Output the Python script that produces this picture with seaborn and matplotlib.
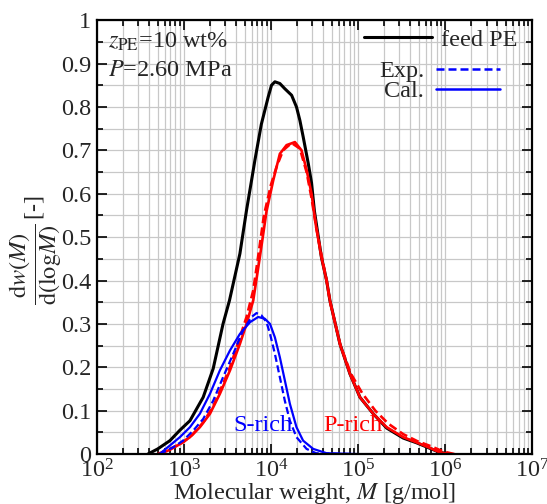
import numpy as np
import pandas as pd
import matplotlib
matplotlib.use('Agg')
import matplotlib.pyplot as plt
from matplotlib.lines import Line2D
from matplotlib.ticker import LogLocator, MultipleLocator, FixedLocator, FixedFormatter
import seaborn as sns

# log10(M) and dw/dlogM
feed_logM = [2.586, 2.70, 2.84, 2.954, 3.07, 3.222, 3.337, 3.45, 3.524, 3.644, 3.72, 3.778,
             3.816, 3.89, 3.969, 4.007, 4.046, 4.103, 4.16, 4.238, 4.294, 4.333, 4.371,
             4.43, 4.467, 4.50, 4.58, 4.64, 4.678, 4.793, 4.908, 5.023, 5.176, 5.33,
             5.52, 5.674, 5.83, 5.94, 6.06]
feed_w = [0, 0.012, 0.031, 0.055, 0.077, 0.131, 0.197, 0.30, 0.354, 0.462, 0.562, 0.631,
          0.677, 0.76, 0.823, 0.85, 0.858, 0.854, 0.842, 0.827, 0.80, 0.769, 0.731,
          0.669, 0.625, 0.56, 0.454, 0.40, 0.354, 0.254, 0.185, 0.131, 0.093, 0.06,
          0.037, 0.026, 0.013, 0.004, 0]

p_cal_logM = [2.72, 2.84, 2.954, 3.07, 3.184, 3.30, 3.414, 3.53, 3.644, 3.72, 3.797, 3.873,
              3.95, 4.027, 4.103, 4.18, 4.276, 4.352, 4.41, 4.467, 4.52, 4.58, 4.64,
              4.678, 4.793, 4.908, 5.023, 5.176, 5.33, 5.52, 5.674, 5.83, 5.94, 6.06]
p_cal_w = [0, 0.01, 0.023, 0.039, 0.062, 0.093, 0.139, 0.193, 0.254, 0.30, 0.354, 0.454,
           0.56, 0.631, 0.692, 0.712, 0.719, 0.70, 0.655, 0.60, 0.523, 0.454, 0.40,
           0.354, 0.254, 0.185, 0.131, 0.093, 0.062, 0.039, 0.027, 0.014, 0.004, 0]

p_exp_logM = [2.70, 2.84, 2.99, 3.10, 3.222, 3.337, 3.45, 3.53, 3.606, 3.72, 3.797, 3.85,
              3.92, 4.0, 4.065, 4.14, 4.238, 4.333, 4.41, 4.467, 4.52, 4.58, 4.64, 4.68,
              4.80, 4.92, 5.05, 5.2, 5.35, 5.52, 5.68, 5.84, 5.98, 6.11]
p_exp_w = [0, 0.012, 0.027, 0.045, 0.073, 0.11, 0.162, 0.20, 0.246, 0.316, 0.377, 0.45,
           0.55, 0.62, 0.662, 0.70, 0.717, 0.704, 0.65, 0.59, 0.523, 0.46, 0.40, 0.35,
           0.25, 0.185, 0.14, 0.10, 0.07, 0.046, 0.03, 0.018, 0.006, 0]

s_cal_logM = [2.72, 2.84, 2.954, 3.07, 3.184, 3.30, 3.414, 3.53, 3.644, 3.76, 3.854, 3.93,
              3.99, 4.046, 4.103, 4.16, 4.218, 4.294, 4.37, 4.486, 4.64, 5.0, 5.5, 6.0]
s_cal_w = [0, 0.02, 0.039, 0.062, 0.093, 0.139, 0.193, 0.239, 0.277, 0.304, 0.316, 0.312,
           0.30, 0.269, 0.223, 0.17, 0.116, 0.062, 0.031, 0.012, 0.002, 0, 0, 0]

s_exp_logM = [2.72, 2.88, 2.99, 3.107, 3.222, 3.337, 3.45, 3.567, 3.68, 3.778, 3.835, 3.89,
              3.95, 3.99, 4.046, 4.103, 4.16, 4.218, 4.294, 4.41, 4.52, 5.0, 5.5, 6.0]
s_exp_w = [0, 0.016, 0.031, 0.054, 0.081, 0.123, 0.177, 0.231, 0.285, 0.316, 0.325, 0.32,
           0.304, 0.277, 0.231, 0.177, 0.123, 0.077, 0.039, 0.012, 0.002, 0, 0, 0]

y_ticks = [0, 0.1, 0.2, 0.3, 0.4, 0.5, 0.6, 0.7, 0.8, 0.9, 1]
y_ticklabels = ['0', '0.1', '0.2', '0.3', '0.4', '0.5', '0.6', '0.7', '0.8', '0.9', '1']

sns.set_theme(style='ticks')
plt.rcParams['font.family'] = ['Liberation Serif', 'DejaVu Serif']
plt.rcParams['mathtext.fontset'] = 'stix'
fs = 17.5

fig = plt.figure(figsize=(5.47, 5.04), dpi=100)
ax = fig.add_axes([0.177, 0.099, 0.7956, 0.861])

dash = (3.2, 1.6)
curves = [
    (feed_logM, feed_w, 'black', '-', 2.2),
    (p_cal_logM, p_cal_w, 'red', '-', 1.9),
    (p_exp_logM, p_exp_w, 'red', '--', 1.9),
    (s_cal_logM, s_cal_w, 'blue', '-', 1.6),
    (s_exp_logM, s_exp_w, 'blue', '--', 1.6),
]
for lm, w, c, ls, lw in curves:
    df = pd.DataFrame({'M': 10 ** np.array(lm), 'w': w})
    line_kw = dict(dashes=dash) if ls == '--' else {}
    sns.lineplot(data=df, x='M', y='w', color=c, lw=lw, ax=ax, sort=False, **line_kw)

ax.set_xscale('log')
ax.set_xlim(1e2, 1e7)
ax.set_ylim(0, 1)

ax.xaxis.set_major_locator(LogLocator(base=10, numticks=10))
ax.xaxis.set_minor_locator(LogLocator(base=10, subs=np.arange(2, 10), numticks=20))
ax.yaxis.set_major_locator(FixedLocator(y_ticks))
ax.yaxis.set_major_formatter(FixedFormatter(y_ticklabels))
ax.yaxis.set_minor_locator(MultipleLocator(0.05))

ax.grid(True, which='both', color='#c8c8c8', lw=0.9)
ax.set_axisbelow(True)
ax.tick_params(which='both', direction='in', top=True, right=True, width=1.2, color='black')
ax.tick_params(which='major', length=7, labelsize=fs, pad=4)
ax.tick_params(which='minor', length=4)
for s in ax.spines.values():
    s.set_linewidth(1.6)
    s.set_color('black')

ax.set_xlabel('Molecular weight, $M$ [g/mol]', fontsize=fs, labelpad=-1)
ax.set_ylabel(r'$\dfrac{\mathrm{d}w(M)}{\mathrm{d(log}M)}\,$[-]', fontsize=fs)
ax.yaxis.set_label_coords(-0.075, 0.47)

ax.text(0.025, 0.95, r'$z_{\mathrm{PE}}$=10 wt%', transform=ax.transAxes, fontsize=fs, va='center')
ax.text(0.025, 0.885, r'$P$=2.60 MPa', transform=ax.transAxes, fontsize=fs, va='center')
ax.text(0.313, 0.067, 'S-rich', transform=ax.transAxes, fontsize=fs, color='blue', va='center')
ax.text(0.52, 0.067, 'P-rich', transform=ax.transAxes, fontsize=fs, color='red', va='center')

h1 = [Line2D([], [], color='black', lw=2.2)]
leg1 = ax.legend(h1, ['feed PE'], loc='upper right', bbox_to_anchor=(1.012, 1.025), frameon=False,
                 handlelength=2.8, handletextpad=0.4, fontsize=fs, borderpad=0.3)
ax.add_artist(leg1)
h2 = [Line2D([], [], color='blue', lw=1.8, ls='--', dashes=dash),
      Line2D([], [], color='blue', lw=1.8)]
ax.legend(h2, ['Exp.', 'Cal.'], loc='upper right', bbox_to_anchor=(0.97, 0.952), frameon=False,
          markerfirst=False, handlelength=2.6, handletextpad=0.5, fontsize=fs,
          labelspacing=-0.1, borderpad=0.3)

fig.savefig('out.png', dpi=100)
